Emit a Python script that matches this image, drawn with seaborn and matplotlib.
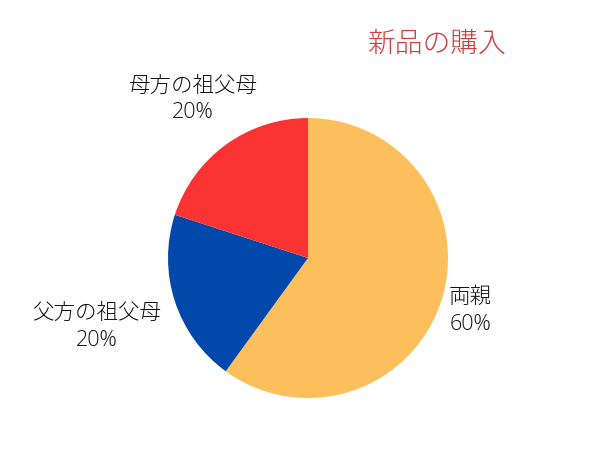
import matplotlib
matplotlib.use("Agg")
import matplotlib.pyplot as plt
import numpy as np
import seaborn as sns

categories = ["両親", "父方の祖父母", "母方の祖父母"]
shares = [60, 20, 20]
title = "新品の購入"

colors = ["#FDBE5C", "#0048AA", "#FB3333"]
label_dist = [1.22, 1.59, 1.40]

sns.set_theme(style="white")
plt.rcParams["font.family"] = ["Noto Sans CJK JP", "DejaVu Sans"]

fig = plt.figure(figsize=(6, 4.51), dpi=100)
ax = fig.add_axes([0.28, 0.1175, 0.4667, 0.6208])

wedges, _ = ax.pie(shares, colors=colors, startangle=90, counterclock=False,
                   radius=1, wedgeprops=dict(linewidth=0))
ax.set_xlim(-1, 1)
ax.set_ylim(-1, 1)
ax.set_aspect("equal")
ax.axis("off")

for w, name, val, d in zip(wedges, categories, shares, label_dist):
    mid = np.deg2rad((w.theta1 + w.theta2) / 2)
    ax.text(d * np.cos(mid), d * np.sin(mid), f"{name}\n{val}%",
            ha="center", va="center", fontsize=15.5, color="#111111",
            linespacing=1.35, fontweight="light",
            family=["Open Sans", "Noto Sans CJK JP", "DejaVu Sans"])

fig.text(436 / 600, 1 - 44 / 451, title, ha="center", va="center",
         fontsize=20, color="#D23A3C", fontweight="light")

fig.savefig("out.png", dpi=100)
